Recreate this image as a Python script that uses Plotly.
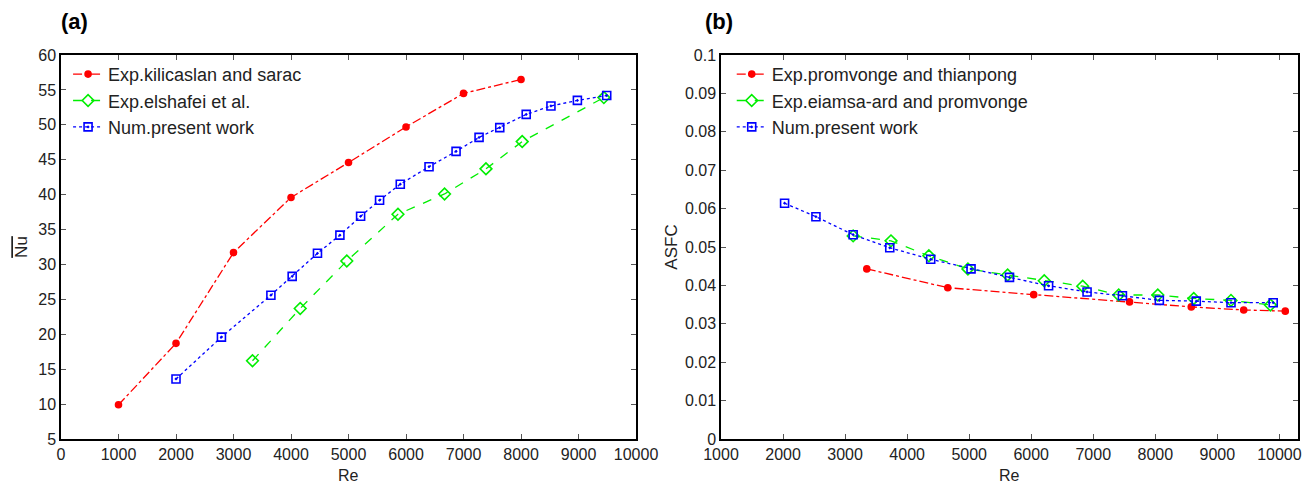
import plotly.graph_objects as go

# Panel (a): Nu vs Re
a_red_re = [1000, 2000, 3000, 4000, 5000, 6000, 7000, 8000]
a_red_nu = [9.9, 18.7, 31.7, 39.6, 44.6, 49.7, 54.5, 56.5]
a_green_re = [3330, 4160, 4970, 5860, 6670, 7390, 8020, 9440]
a_green_nu = [16.2, 23.7, 30.5, 37.2, 40.1, 43.7, 47.6, 53.9]
a_blue_re = [2000, 2790, 3650, 4020, 4460, 4850, 5210, 5540, 5900, 6400, 6870, 7270, 7630, 8090, 8520, 8980, 9490]
a_blue_nu = [13.6, 19.6, 25.6, 28.3, 31.6, 34.2, 36.9, 39.2, 41.5, 44.0, 46.2, 48.2, 49.6, 51.5, 52.7, 53.5, 54.2]

# Panel (b): ASFC vs Re
b_red_re = [3350, 4655, 6040, 7585, 8580, 9425, 10095]
b_red_asfc = [0.0443, 0.0394, 0.0376, 0.0357, 0.0344, 0.0336, 0.0333]
b_green_re = [3130, 3740, 4350, 4980, 5620, 6210, 6830, 7410, 8040, 8620, 9220, 9855]
b_green_asfc = [0.0529, 0.0516, 0.0477, 0.0443, 0.0427, 0.0412, 0.0398, 0.0375, 0.0375, 0.0366, 0.0361, 0.0349]
b_blue_re = [2025, 2530, 3130, 3720, 4380, 5030, 5650, 6280, 6900, 7470, 8065, 8660, 9220, 9900]
b_blue_asfc = [0.0614, 0.0579, 0.0532, 0.0498, 0.0468, 0.0443, 0.0421, 0.0399, 0.0383, 0.0373, 0.0361, 0.0359, 0.0355, 0.0355]

a_names = ["Exp.kilicaslan and sarac", "Exp.elshafei et al.", "Num.present work"]
b_names = ["Exp.promvonge and thianpong", "Exp.eiamsa-ard and promvonge", "Num.present work"]

RED, GREEN, BLUE = "#ff0000", "#00ee00", "#0000ff"

fig = go.Figure()

def add(x, y, name, color, dash, symbol, size, xa, ya, legend):
    fig.add_trace(go.Scatter(
        x=x, y=y, name=name, mode="lines+markers",
        line=dict(color=color, dash=dash, width=1.3),
        marker=dict(symbol=symbol, size=size, color=color,
                    line=dict(color=color, width=1.6)),
        xaxis=xa, yaxis=ya, legend=legend))

add(a_red_re, a_red_nu, a_names[0], RED, "dashdot", "circle", 6, "x", "y", "legend")
add(a_green_re, a_green_nu, a_names[1], GREEN, "dash", "diamond-open", 9, "x", "y", "legend")
add(a_blue_re, a_blue_nu, a_names[2], BLUE, "dot", "square-open-dot", 8, "x", "y", "legend")

add(b_red_re, b_red_asfc, b_names[0], RED, "dashdot", "circle", 6, "x2", "y2", "legend2")
add(b_green_re, b_green_asfc, b_names[1], GREEN, "dash", "diamond-open", 9, "x2", "y2", "legend2")
add(b_blue_re, b_blue_asfc, b_names[2], BLUE, "dot", "square-open-dot", 8, "x2", "y2", "legend2")

axis_common = dict(showline=True, linecolor="black", linewidth=1.5, mirror="ticks",
                   ticks="inside", ticklen=5, tickcolor="#555", tickwidth=1,
                   showgrid=False, zeroline=False, automargin=False,
                   tickfont=dict(family="Liberation Sans, Arial", size=16, color="#222"))

fig.update_layout(
    width=1309, height=486,
    margin=dict(l=0, r=0, t=0, b=0, autoexpand=False),
    paper_bgcolor="white", plot_bgcolor="white",
    showlegend=True,
    font=dict(family="Liberation Sans, Arial", color="#222"),
    xaxis=dict(domain=[0.0466, 0.4859], range=[0, 10000], dtick=1000, tickformat="d", anchor="y",
               ticklabelstandoff=0, **axis_common),
    yaxis=dict(domain=[0.0967, 0.8868], range=[5, 60], dtick=5, anchor="x",
               title=dict(text="<span style='text-decoration:overline'>Nu</span>",
                          font=dict(size=17), standoff=6), **axis_common),
    xaxis2=dict(domain=[0.5508, 0.9916], range=[1000, 10300], dtick=1000, tick0=0, tickformat="d",
                anchor="y2", ticklabelstandoff=0, **axis_common),
    yaxis2=dict(domain=[0.0967, 0.8868], range=[0, 0.1], dtick=0.01, anchor="x2",
                title=dict(text="ASFC", font=dict(size=17), standoff=3), **axis_common),
    legend=dict(x=0.052, y=0.885, xanchor="left", yanchor="top", bgcolor="rgba(0,0,0,0)",
                font=dict(size=18, color="#222"), tracegroupgap=0, itemwidth=30),
    legend2=dict(x=0.559, y=0.885, xanchor="left", yanchor="top", bgcolor="rgba(0,0,0,0)",
                 font=dict(size=18, color="#222"), tracegroupgap=0, itemwidth=30),
    annotations=[
        dict(text="<b>(a)</b>", x=0.045, y=0.985, xref="paper", yref="paper",
             xanchor="left", yanchor="top", showarrow=False, font=dict(size=22, color="black")),
        dict(text="<b>(b)</b>", x=0.537, y=0.985, xref="paper", yref="paper",
             xanchor="left", yanchor="top", showarrow=False, font=dict(size=22, color="black")),
        dict(text="Re", x=0.5, y=0.0, xref="x domain", yref="paper",
             xanchor="center", yanchor="bottom", yshift=0, showarrow=False,
             font=dict(size=16, color="#222")),
        dict(text="Re", x=0.5, y=0.0, xref="x2 domain", yref="paper",
             xanchor="center", yanchor="bottom", yshift=0, showarrow=False,
             font=dict(size=16, color="#222")),
    ],
)

fig.write_html("out.html")
